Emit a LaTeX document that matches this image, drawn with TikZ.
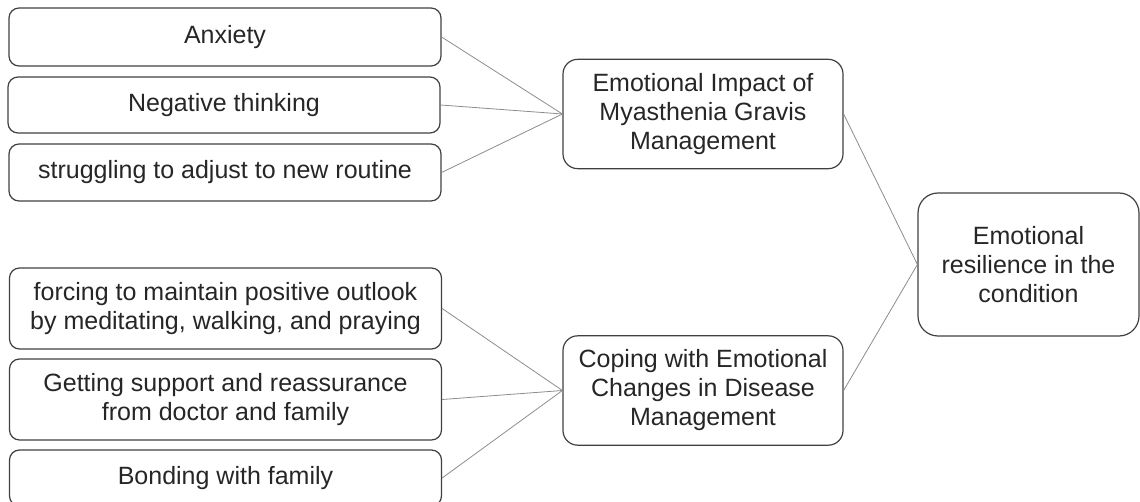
\documentclass[tikz,border=0pt]{standalone}
\usepackage{fontspec}
\setmainfont{Liberation Sans}
\definecolor{boxline}{HTML}{404040}
\definecolor{linkline}{HTML}{8C8C8C}
\begin{document}
\begin{tikzpicture}[x=0.75pt, y=-0.75pt,
    every node/.style={draw=boxline, line width=0.9pt, align=center, inner sep=0pt,
        font=\fontsize{18.75}{21.75}\selectfont, text=black!85},
    leaf/.style={rounded corners=7.5pt, minimum width=324pt},
    theme/.style={rounded corners=11pt, minimum width=210pt, minimum height=82pt},
    link/.style={draw=linkline, line width=0.6pt}]
    \useasboundingbox (0,0) rectangle (1140,502);
    % sub-themes
    \node[leaf, minimum height=43.5pt] (a1) at (225,37) {Anxiety};
    \node[leaf, minimum height=42pt] (a2) at (224,105) {Negative thinking};
    \node[leaf, minimum height=42.75pt] (a3) at (225,172.5) {struggling to adjust to new routine};
    \node[leaf, minimum height=60.75pt] (b1) at (225.5,308.5) {forcing to maintain positive outlook\\by meditating, walking, and praying};
    \node[leaf, minimum height=60.75pt] (b2) at (225.5,399.5) {Getting support and reassurance\\from doctor and family};
    \node[leaf, minimum height=42pt] (b3) at (225.5,478) {Bonding with family};
    % themes
    \node[theme] (impact) at (703,114) {Emotional Impact of\\Myasthenia Gravis\\Management};
    \node[theme] (coping) at (703,390.5) {Coping with Emotional\\Changes in Disease\\Management};
    \node[rounded corners=15pt, minimum width=165.75pt, minimum height=107.25pt] (resil) at (1028.5,264.5) {Emotional\\resilience in the\\condition};
    \foreach \i in {1,2,3} {
        \draw[link] (a\i.east) -- (impact.west);
        \draw[link] (b\i.east) -- (coping.west);
    }
    \draw[link] (impact.east) -- (resil.west);
    \draw[link] (coping.east) -- (resil.west);
\end{tikzpicture}
\end{document}
